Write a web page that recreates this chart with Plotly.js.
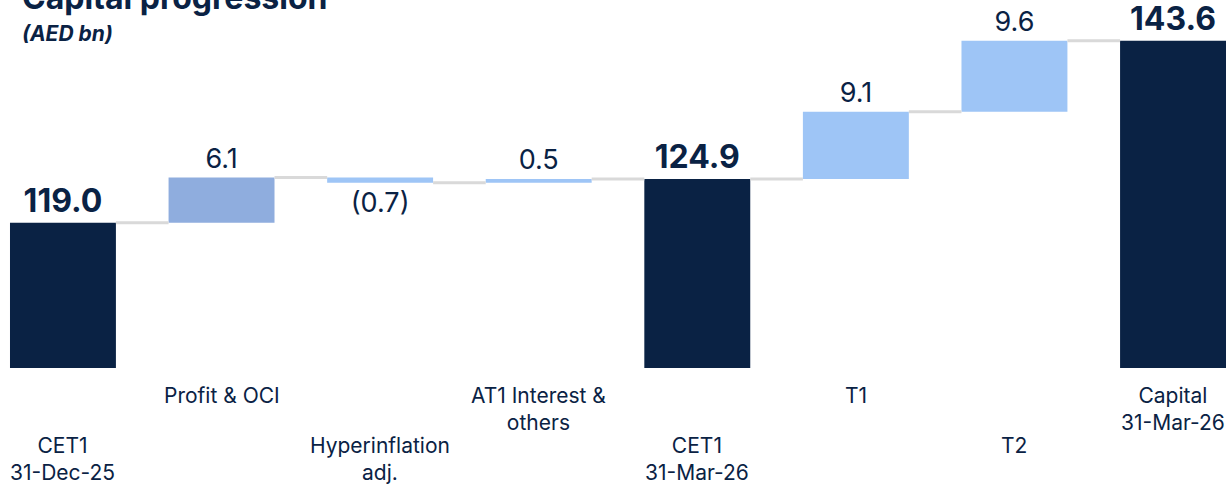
<!DOCTYPE html>
<html>
<head>
<meta charset="utf-8">
<script src="https://cdn.plot.ly/plotly-3.0.1.min.js"></script>
<style>html,body{margin:0;padding:0;background:#fff;}#chart{width:1226px;height:488px;}</style>
</head>
<body>
<div id="chart"></div>
<script>
// ---- data ----
const categories = ['CET1<br>31-Dec-25', 'Profit & OCI', 'Hyperinflation<br>adj.', 'AT1 Interest &<br>others', 'CET1<br>31-Mar-26', 'T1', 'T2', 'Capital<br>31-Mar-26'];
const measures = ['total', 'relative', 'relative', 'relative', 'total', 'relative', 'relative', 'total'];
const values = [119.0, 6.1, -0.7, 0.5, 124.9, 9.1, 9.6, 143.6];
const valueLabels = ['119.0', '6.1', '(0.7)', '0.5', '124.9', '9.1', '9.6', '143.6'];
const labelRow = [2, 1, 2, 1, 2, 1, 2, 1];

// ---- style ----
const NAVY = '#0a2244';
const MID = '#8fadde';
const LIGHT = '#9ec5f6';
const FONT = 'Inter, "Noto Sans", sans-serif';
const BAR_W = 0.668;

const xs = categories.map((_, i) => i);
const bases = [], ys = [], ends = [];
let running = 0;
values.forEach((v, i) => {
  if (measures[i] === 'total') { bases.push(0); ys.push(v); running = v; }
  else { bases.push(running); ys.push(v); running += v; }
  ends.push(running);
});
const colors = measures.map((m, i) => m === 'total' ? NAVY : (i === 1 ? MID : LIGHT));
const texts = valueLabels.map((t, i) => measures[i] === 'total' ? '<b>' + t + '</b>' : t);
const sizes = measures.map(m => m === 'total' ? 32 : 27);

// connectors
const cx = [], cy = [];
for (let i = 0; i < xs.length - 1; i++) {
  cx.push(xs[i] + BAR_W / 2, xs[i + 1] - BAR_W / 2, null);
  cy.push(ends[i], ends[i], null);
}

const traces = [
  {
    type: 'scatter', mode: 'lines', x: cx, y: cy,
    line: {color: '#d9d9d9', width: 3}, hoverinfo: 'skip', showlegend: false, cliponaxis: false
  },
  {
    type: 'bar', x: xs, y: ys, base: bases, width: BAR_W,
    marker: {color: colors, line: {width: 0}},
    text: texts, textposition: 'outside', constraintext: 'none', cliponaxis: false,
    textfont: {family: FONT, size: sizes, color: NAVY},
    showlegend: false, hoverinfo: 'skip'
  }
];

const PLOT_H = 368;
const py = px => (PLOT_H - px) / PLOT_H;

const annotations = [
  {text: '<b>Capital progression</b>', xref: 'paper', yref: 'paper', x: 20 / 1226, y: py(19), xanchor: 'left', yanchor: 'bottom',
   showarrow: false, font: {family: FONT, size: 32, color: NAVY}},
  {text: '<b><i>(AED bn)</i></b>', xref: 'paper', yref: 'paper', x: 20 / 1226, y: py(19), xanchor: 'left', yanchor: 'top',
   showarrow: false, font: {family: FONT, size: 21, color: NAVY}}
];
categories.forEach((c, i) => {
  annotations.push({
    text: c, xref: 'x', yref: 'paper', x: xs[i], y: py(labelRow[i] === 1 ? 381 : 431),
    xanchor: 'center', yanchor: 'top', showarrow: false, align: 'center',
    font: {family: FONT, size: 21, color: NAVY}
  });
});

const layout = {
  width: 1226, height: 488,
  margin: {l: 0, r: 0, t: 0, b: 120, pad: 0},
  paper_bgcolor: '#ffffff', plot_bgcolor: '#ffffff',
  barmode: 'overlay',
  xaxis: {range: [-0.397, 7.334], showticklabels: false, showgrid: false, zeroline: false, showline: false, ticks: ''},
  yaxis: {range: [99.36, 149.1], visible: false, showgrid: false, zeroline: false},
  annotations: annotations,
  showlegend: false
};

Plotly.newPlot('chart', traces, layout, {displayModeBar: false, staticPlot: true});
</script>
</body>
</html>
